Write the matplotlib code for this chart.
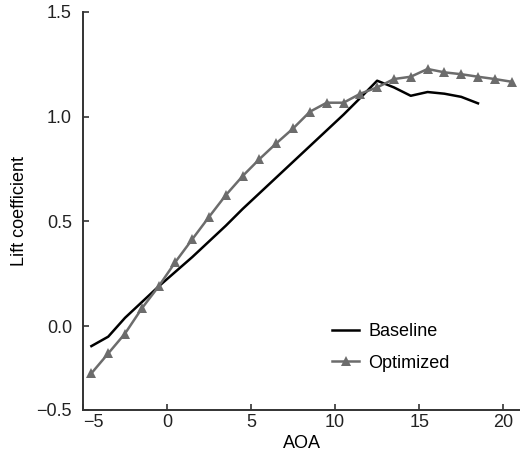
import matplotlib
matplotlib.use("Agg")
import matplotlib.pyplot as plt

plt.rcParams["font.family"] = ["Liberation Sans", "DejaVu Sans"]

# lift curves
aoa_base = [-4.5, -3.5, -2.5, -1.5, -0.5, 0.5, 1.5, 2.5, 3.5, 4.5, 5.5, 6.5,
            7.5, 8.5, 9.5, 10.5, 11.5, 12.5, 13.5, 14.5, 15.5, 16.5, 17.5, 18.5]
cl_base = [-0.095, -0.05, 0.04, 0.115, 0.19, 0.26, 0.33, 0.405, 0.48, 0.56,
           0.635, 0.71, 0.785, 0.86, 0.935, 1.01, 1.09, 1.172, 1.14, 1.10,
           1.118, 1.11, 1.095, 1.064]

aoa_opt = [-4.5, -3.5, -2.5, -1.5, -0.5, 0.5, 1.5, 2.5, 3.5, 4.5, 5.5, 6.5, 7.5,
           8.5, 9.5, 10.5, 11.5, 12.5, 13.5, 14.5, 15.5, 16.5, 17.5, 18.5, 19.5, 20.5]
cl_opt = [-0.225, -0.13, -0.035, 0.085, 0.19, 0.307, 0.415, 0.522, 0.626, 0.717,
          0.798, 0.873, 0.944, 1.024, 1.067, 1.067, 1.11, 1.14, 1.18, 1.191,
          1.228, 1.212, 1.203, 1.191, 1.18, 1.167]

x_ticks = [-5, 0, 5, 10, 15, 20]
y_ticks = [-0.4, 0.0, 0.5, 1.0, 1.5]
y_tick_labels = ["\u22120.5", "0.0", "0.5", "1.0", "1.5"]

fig = plt.figure(figsize=(5.2, 4.59), dpi=100)
ax = fig.add_axes([83 / 520, 49 / 459, 437 / 520, 398 / 459])

ax.plot(aoa_base, cl_base, color="black", lw=1.8, label="Baseline")
ax.plot(aoa_opt, cl_opt, color="#6c6c6c", lw=1.8, marker="^", ms=7.5,
        markeredgewidth=0, label="Optimized")

ax.set_xlim(-5, 21)
ax.set_ylim(-0.4, 1.5)
ax.set_xticks(x_ticks)
ax.set_yticks(y_ticks)
ax.set_yticklabels(y_tick_labels)

for side in ("top", "right"):
    ax.spines[side].set_visible(False)
for side in ("left", "bottom"):
    ax.spines[side].set_linewidth(1.4)
    ax.spines[side].set_color("#333333")
ax.tick_params(direction="in", length=4, width=1.2, color="#333333",
               labelsize=13, labelcolor="#222222")
ax.tick_params(axis="y", pad=8)
ax.tick_params(axis="x", pad=3)

ax.set_xlabel("AOA", fontsize=13, labelpad=3)
ax.set_ylabel("Lift coefficient", fontsize=13, labelpad=6)

ax.legend(loc="upper left", bbox_to_anchor=(0.57, 0.218), frameon=False,
          fontsize=13, handlelength=1.5, handletextpad=0.5, labelspacing=0.8,
          borderpad=0, borderaxespad=0)

# first x label sits right of its tick, clear of the corner
fig.canvas.draw()
ax.xaxis.get_major_ticks()[0].label1.set_horizontalalignment("left")

fig.savefig("out.png", dpi=100)
